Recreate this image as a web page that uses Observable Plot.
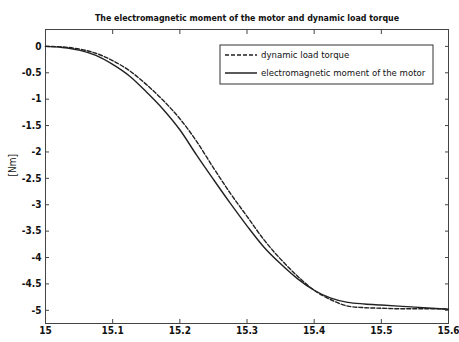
<!DOCTYPE html>
<html>
<head>
<meta charset="utf-8">
<script src="https://cdn.jsdelivr.net/npm/d3@7"></script>
<script src="https://cdn.jsdelivr.net/npm/@observablehq/plot@0.6"></script>
<style>
  body { margin: 0; background: #fff; }
  #chart { position: relative; width: 459px; height: 342px; }
</style>
</head>
<body>
<div id="chart"></div>
<script>
const title = "The electromagnetic moment of the motor and dynamic load torque";
const yLabel = "[Nm]";
const seriesNames = ["dynamic load torque", "electromagnetic moment of the motor"];
const xTicks = [15, 15.1, 15.2, 15.3, 15.4, 15.5, 15.6];
const yTicks = [0, -0.5, -1, -1.5, -2, -2.5, -3, -3.5, -4, -4.5, -5];

const time = [15.000, 15.025, 15.050, 15.075, 15.100, 15.125, 15.150, 15.175, 15.200, 15.225,
              15.250, 15.275, 15.300, 15.325, 15.350, 15.375, 15.400, 15.425, 15.450, 15.475,
              15.500, 15.525, 15.550, 15.575, 15.600];
const loadTorque = [0, -0.01, -0.05, -0.13, -0.27, -0.46, -0.72, -1.02, -1.37, -1.80,
                    -2.30, -2.78, -3.22, -3.66, -4.03, -4.35, -4.62, -4.80, -4.92, -4.95,
                    -4.96, -4.97, -4.97, -4.97, -4.98];
const motorMoment = [0, -0.02, -0.07, -0.17, -0.34, -0.56, -0.86, -1.19, -1.58, -2.06,
                     -2.52, -2.97, -3.40, -3.80, -4.12, -4.40, -4.62, -4.77, -4.85, -4.88,
                     -4.90, -4.92, -4.94, -4.96, -4.98];

const loadData = time.map((t, i) => ({t, v: loadTorque[i]}));
const motorData = time.map((t, i) => ({t, v: motorMoment[i]}));

const font = "'Liberation Sans Narrow', 'Arial Narrow', 'DejaVu Sans Condensed', 'Liberation Sans', sans-serif";
const ink = "#222";

const plot = Plot.plot({
  width: 459,
  height: 342,
  marginLeft: 45,
  marginRight: 11,
  marginTop: 29,
  marginBottom: 19,
  style: {fontFamily: font, fontSize: "10px", color: "#111", background: "#fff", fontStretch: "condensed"},
  x: {domain: [15, 15.6]},
  y: {domain: [-5.25, 0.32]},
  marks: [
    Plot.frame({stroke: "#444"}),
    Plot.axisX({ticks: xTicks, tickSize: -4, tickPadding: 7, tickFormat: d => String(d), label: null, fontWeight: "bold", stroke: "#444"}),
    Plot.axisX({anchor: "top", ticks: xTicks, tickSize: -4, tickFormat: () => "", label: null, stroke: "#444"}),
    Plot.axisY({ticks: yTicks, tickSize: -4, tickPadding: 8, tickFormat: d => String(d), label: null, fontWeight: "bold", stroke: "#444"}),
    Plot.axisY({anchor: "right", ticks: yTicks, tickSize: -4, tickFormat: () => "", label: null, stroke: "#444"}),
    Plot.line(loadData, {x: "t", y: "v", stroke: ink, strokeWidth: 1.4, strokeDasharray: "4,2", curve: "monotone-x"}),
    Plot.line(motorData, {x: "t", y: "v", stroke: ink, strokeWidth: 1.4, curve: "monotone-x"}),
    Plot.text([title], {frameAnchor: "top", dy: -15, fontSize: 8.8, fontWeight: "bold", fill: "#111"}),
    Plot.text([yLabel], {frameAnchor: "left", dx: -33, rotate: -90, fontSize: 10, fill: "#111"})
  ]
});

document.getElementById("chart").appendChild(plot);

// Legend box (MATLAB style) drawn inside the SVG
const svg = d3.select(plot);
const lg = svg.append("g").attr("transform", "translate(220,45)").attr("text-anchor", "start");
lg.append("rect").attr("width", 213).attr("height", 39).attr("fill", "#fff").attr("stroke", "#333");
const rows = [{name: seriesNames[0], dash: "4,2", y: 10}, {name: seriesNames[1], dash: null, y: 28}];
rows.forEach(r => {
  lg.append("line").attr("x1", 5).attr("x2", 37).attr("y1", r.y).attr("y2", r.y)
    .attr("stroke", ink).attr("stroke-width", 1.5).attr("stroke-dasharray", r.dash);
  lg.append("text").attr("x", 41).attr("y", r.y).attr("dy", "0.35em")
    .attr("font-family", font).attr("font-size", 9.5).attr("fill", "#111").text(r.name);
});
</script>
</body>
</html>
